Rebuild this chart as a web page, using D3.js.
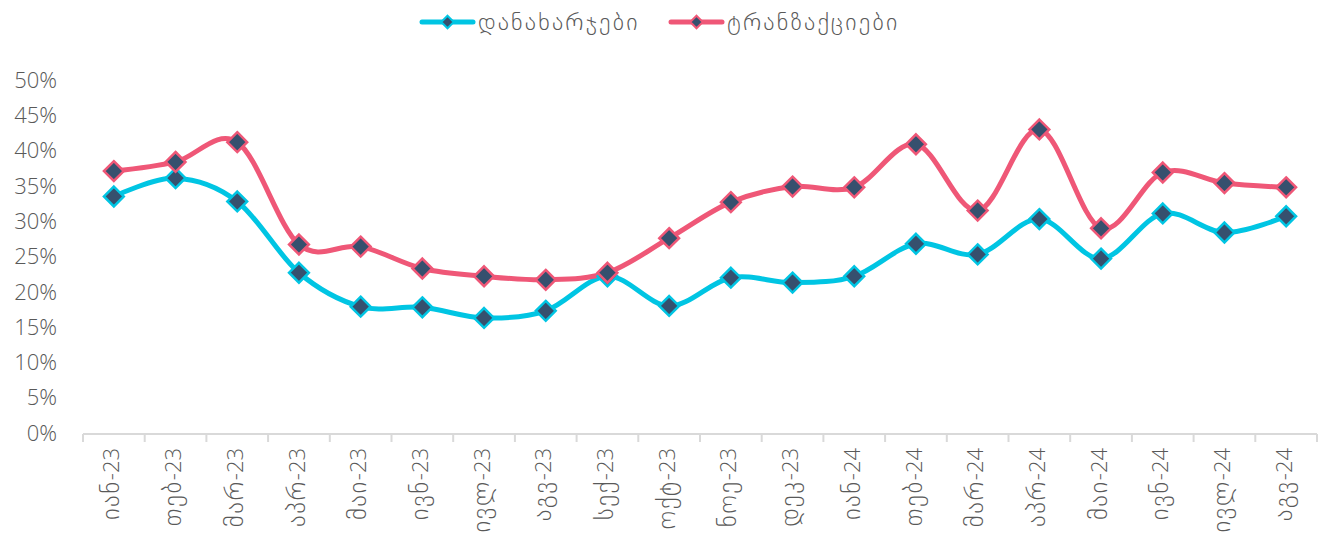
<!DOCTYPE html>
<html>
<head>
<meta charset="utf-8">
<script src="https://cdn.jsdelivr.net/npm/d3@7"></script>
<style>
body { margin: 0; background: #fff; }
text { fill: #595959; }
.num { font-family: "Open Sans", "DejaVu Sans", sans-serif; font-weight: 300; }
.geo { font-family: "DejaVu Sans", sans-serif; font-weight: 200; }
</style>
</head>
<body>
<div id="chart-area"></div>
<script>
var months = ["იან-23", "თებ-23", "მარ-23", "აპრ-23", "მაი-23", "ივნ-23", "ივლ-23", "აგვ-23", "სექ-23", "ოქტ-23", "ნოე-23", "დეკ-23",
	"იან-24", "თებ-24", "მარ-24", "აპრ-24", "მაი-24", "ივნ-24", "ივლ-24", "აგვ-24"];
var costs = [33.5, 36.1, 32.8, 22.7, 17.9, 17.8, 16.3, 17.3, 22.2, 18.0, 22.0, 21.3, 22.2, 26.8, 25.3, 30.3, 24.7, 31.1, 28.4, 30.7];
var transactions = [37.1, 38.4, 41.2, 26.7, 26.4, 23.3, 22.2, 21.7, 22.7, 27.6, 32.7, 34.9, 34.8, 40.9, 31.5, 43.0, 29.0, 36.9, 35.4, 34.8];
var yTicks = [0, 5, 10, 15, 20, 25, 30, 35, 40, 45, 50];
var seriesNames = ["დანახარჯები", "ტრანზაქციები"];
var seriesColors = ["#00c5e3", "#ef5777"];
var markerFill = "#36506e";

var W = 1322, H = 541;
var svg = d3.select("#chart-area").append("svg").attr("width", W).attr("height", H);
var margin = {left: 83, right: 5, top: 80, bottom: 108};
var width = W - margin.left - margin.right;
var height = H - margin.top - margin.bottom;

var x = d3.scaleBand().domain(months).range([0, width]);
var y = d3.scaleLinear().domain([0, 50]).range([height, 0]);

var g = svg.append("g")
	.attr("transform", "translate(" + margin.left + ", " + margin.top + ")");

// y labels (no axis line)
g.selectAll(".ylab").data(yTicks).enter().append("text")
	.attr("class", "num")
	.attr("x", -26)
	.attr("y", d => y(d))
	.attr("dy", "0.35em")
	.attr("text-anchor", "end")
	.attr("font-size", "22px")
	.text(d => d + "%");

// x axis
var xAxisG = g.append("g").attr("transform", "translate(0, " + (height + 1) + ")");
xAxisG.append("line").attr("x1", 0).attr("x2", width).attr("stroke", "#d9d9d9").attr("stroke-width", 2);
var bounds = months.map(m => x(m)).concat([width]);
xAxisG.selectAll(".tick").data(bounds).enter().append("line")
	.attr("x1", d => d).attr("x2", d => d).attr("y1", 0).attr("y2", 8)
	.attr("stroke", "#d9d9d9").attr("stroke-width", 2);
var xl = xAxisG.selectAll(".xlab").data(months).enter().append("text")
	.attr("transform", d => "translate(" + (x(d) + x.bandwidth() / 2) + ", 14) rotate(-90)")
	.attr("text-anchor", "end")
	.attr("dy", "0.35em");
xl.append("tspan").attr("class", "geo").attr("font-size", "25px").attr("letter-spacing", "1.5px")
	.text(d => d.split("-")[0]);
xl.append("tspan").attr("class", "num").attr("font-size", "22px")
	.text(d => "-" + d.split("-")[1]);

var line = d3.line()
	.x((d, i) => x(months[i]) + x.bandwidth() / 2)
	.y(d => y(d))
	.curve(d3.curveCardinal.tension(0));

var diamond = d3.symbol().type(d3.symbolDiamond2).size(250);

[costs, transactions].forEach(function(data, k) {
	g.append("path")
		.attr("d", line(data))
		.attr("fill", "none")
		.attr("stroke", seriesColors[k])
		.attr("stroke-width", 5);
});
[costs, transactions].forEach(function(data, k) {
	g.selectAll(".m" + k).data(data).enter().append("path")
		.attr("class", "m" + k)
		.attr("d", diamond)
		.attr("transform", (d, i) => "translate(" + (x(months[i]) + x.bandwidth() / 2) + "," + y(d) + ")")
		.attr("fill", markerFill)
		.attr("stroke", seriesColors[k])
		.attr("stroke-width", 2.5);
});

// legend
var legendX = [420, 669];
var legend = svg.append("g");
seriesNames.forEach(function(name, k) {
	var lg = legend.append("g").attr("transform", "translate(" + legendX[k] + ", 22)");
	lg.append("line").attr("x1", 2).attr("x2", 53).attr("stroke", seriesColors[k])
		.attr("stroke-width", 5).attr("stroke-linecap", "round");
	lg.append("path").attr("d", d3.symbol().type(d3.symbolDiamond2).size(100))
		.attr("transform", "translate(27.5,0)")
		.attr("fill", markerFill).attr("stroke", seriesColors[k]).attr("stroke-width", 2);
	lg.append("text").attr("class", "geo").attr("x", 58).attr("dy", "0.35em")
		.attr("font-size", "24px").attr("letter-spacing", "2.2px").text(name);
});
</script>
</body>
</html>
